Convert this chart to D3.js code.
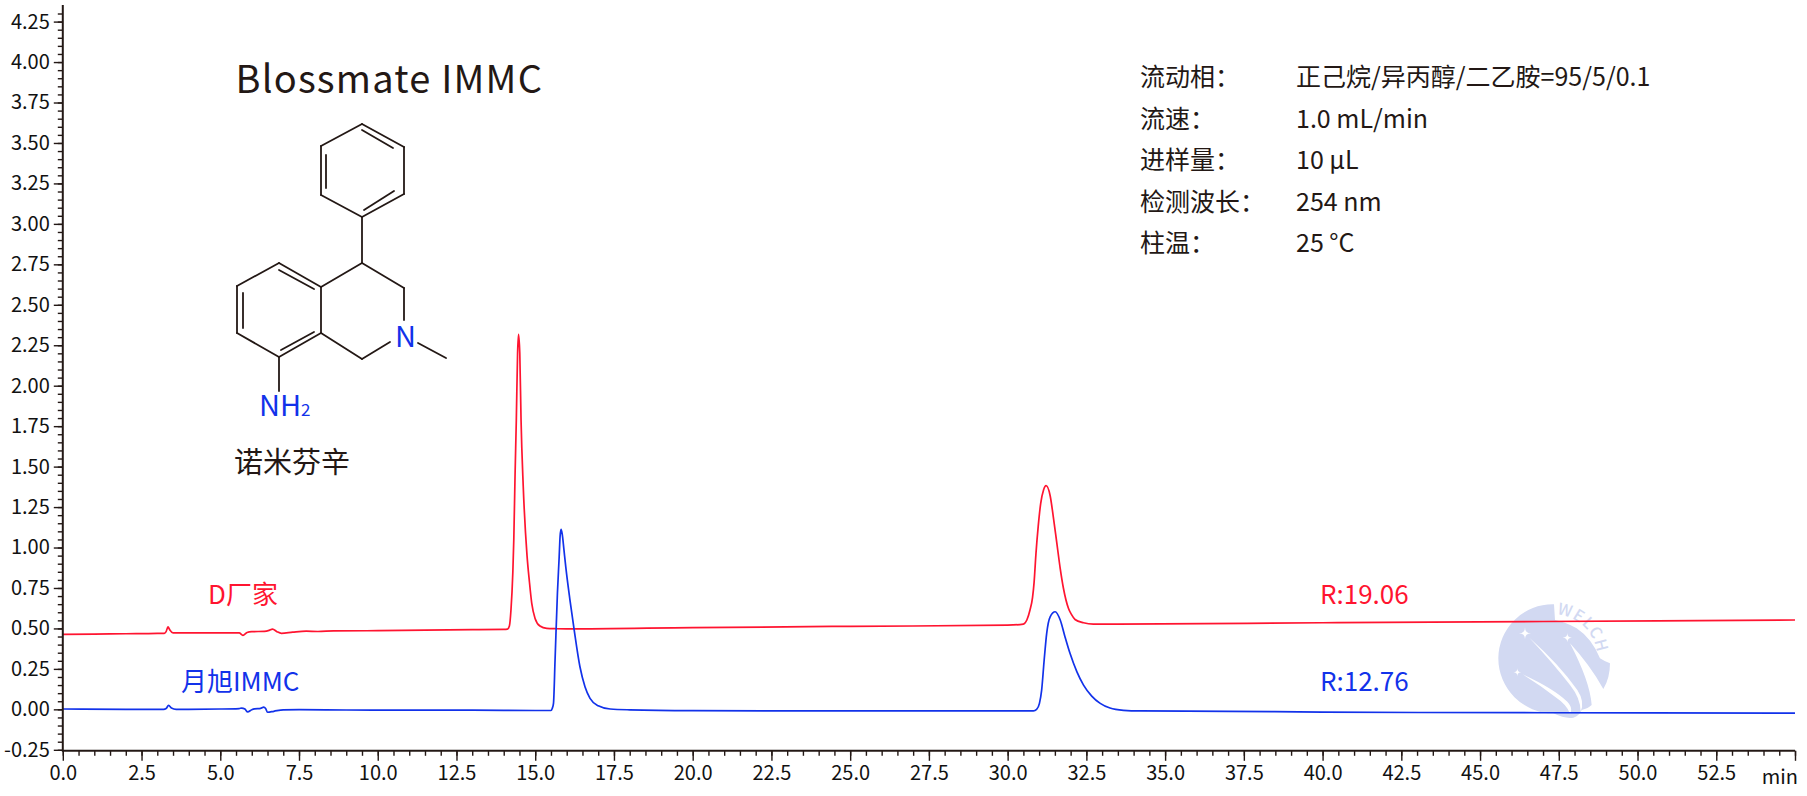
<!DOCTYPE html>
<html><head><meta charset="utf-8">
<script src="https://cdn.jsdelivr.net/npm/d3@7"></script>
<style>html,body{margin:0;padding:0;background:#fff}svg{display:block}
text{font-family:"Noto Sans CJK SC","Noto Sans",sans-serif}</style></head>
<body><div id="c"></div>
<script>
const redSeries=[[0,.463],[1,.465],[2,.467],[3,.469],[3.22,.47],[3.28,.48],[3.34,.51],[3.4,.49],[3.5,.472],[4,.472],[5,.473],[5.6,.472],[5.72,.457],[5.85,.475],[6,.48],[6.4,.482],[6.55,.488],[6.66,.496],[6.8,.48],[6.94,.47],[7.3,.477],[7.73,.483],[8.1,.481],[8.6,.485],[10,.486],[11.5,.49],[13,.493],[14,.494],[14.12,.496],[14.18,.515],[14.23,.614],[14.29,.85],[14.32,1.05],[14.36,1.45],[14.4,1.788],[14.44,2.2],[14.47,2.318],[14.51,2.2],[14.55,1.788],[14.62,1.376],[14.74,.95],[14.815,.79],[14.89,.655],[14.995,.562],[15.15,.515],[15.366,.5],[15.68,.498],[16,.497],[20,.505],[25,.513],[30,.52],[30.5,.527],[30.61,.552],[30.71,.614],[30.79,.69],[30.84,.785],[30.9,.964],[30.97,1.129],[31.05,1.273],[31.14,1.356],[31.22,1.382],[31.35,1.32],[31.45,1.19],[31.56,1.03],[31.67,.87],[31.77,.75],[31.93,.625],[32.03,.585],[32.14,.555],[32.41,.535],[32.72,.527],[33.5,.527],[40,.535],[47,.543],[55,.552]];
const blueSeries=[[0,.002],[2,0],[3.2,0],[3.28,.005],[3.36,.025],[3.45,.008],[3.6,0],[5,.002],[5.6,.005],[5.68,.008],[5.78,.002],[5.87,-.016],[6,-.002],[6.09,.003],[6.28,.006],[6.38,.014],[6.44,.005],[6.5,-.018],[6.7,-.012],[7,-.003],[7.5,-.002],[9,-.004],[11,-.005],[13,-.005],[15,-.007],[15.5,-.007],[15.54,.005],[15.58,.037],[15.63,.305],[15.705,.717],[15.76,.94],[15.79,1.07],[15.82,1.112],[15.86,1.08],[15.91,.99],[15.97,.88],[16.1,.68],[16.23,.5],[16.42,.263],[16.58,.14],[16.74,.068],[17,.022],[17.38,.002],[18,-.003],[20,-.008],[25,-.01],[30,-.009],[30.82,-.009],[30.92,0],[31.01,.037],[31.08,.119],[31.16,.305],[31.24,.47],[31.35,.572],[31.51,.603],[31.67,.552],[31.82,.449],[31.98,.346],[32.2,.232],[32.41,.15],[32.67,.082],[32.94,.037],[33.25,.008],[33.68,-.006],[34.2,-.01],[37,-.012],[40,-.017],[47,-.021],[55,-.023]];
const xMajorTicks=d3.range(0,22).map(i=>i*2.5).concat([55]);
const xMinorTicks=d3.range(0,111).map(i=>i*0.5);
const yMajorTicks=d3.range(-1,18).map(i=>i*0.25);
const yMinorTicks=d3.range(-5,87).map(i=>i*0.05);
const paramLabels=["流动相：","流速：","进样量：","检测波长：","柱温："];
const paramValues=["正己烷/异丙醇/二乙胺=95/5/0.1","1.0 mL/min","10 µL","254 nm","25 °C"];
const seriesNotes=[
 {t:"D厂家",x:208,y:594,c:"#ff1430"},{t:"R:19.06",x:1320,y:594,c:"#ff1430"},
 {t:"月旭IMMC",x:181,y:681,c:"#1232ea"},{t:"R:12.76",x:1320,y:681,c:"#1232ea"}];
const bonds=[[362,124,404,147],[404,147,404,194],[404,194,362,217],[362,217,321,195],[321,195,321,146],[321,146,362,124],
[362,130,393,148],[326,155,326,188],[364,210,394,191],[362,217,362,263],[362,263,321,287],[362,263,404,288],[404,288,404,320],
[390,342,362,359],[362,359,321,333],[321,333,321,287],[321,333,279,357],[279,357,237,333],[237,333,237,286],[237,286,279,263],[279,263,321,287],
[279,270,314,289],[243,293,243,328],[281,350,314,332],[418,343,446,358],[279,357,279,391]];

const W=1807,H=796,ink="#231815";
const svg=d3.select("#c").append("svg").attr("width",W).attr("height",H);
const x=d3.scaleLinear().domain([0,55]).range([62.8,1795]);
const y=d3.scaleLinear().domain([-0.25,4.25]).range([749.8,21.6]);

// watermark logo
const lg=svg.append("g").attr("transform","translate(1490,595) scale(0.3333)");
const logoC="#d2d9f2";
lg.append("path").attr("fill",logoC).attr("d","M192,28 A163,163 0 0 0 25,190 A165,165 0 0 0 190,355 Q225,372 250,368 Q268,362 275,345 Q295,340 305,330 Q300,260 240,145 Q300,210 340,282 Q360,250 360,205 Q345,200 330,190 Q305,130 260,100 Q225,80 195,75 Z");
lg.append("path").attr("fill","#fff").attr("d","M118,128 Q210,210 262,285 Q285,320 272,350 Q272,310 240,270 Q190,205 118,128Z");
lg.append("path").attr("fill","#fff").attr("d","M98,238 Q190,280 232,320 Q250,340 240,356 Q232,330 195,305 Q150,270 98,238Z");
[[105,115,18],[232,128,14],[82,232,12]].forEach(([a,b,r])=>
 lg.append("path").attr("fill","#fff").attr("d",`M${a},${b-r} Q${a},${b} ${a+r},${b} Q${a},${b} ${a},${b+r} Q${a},${b} ${a-r},${b} Q${a},${b} ${a},${b-r}Z`));
lg.append("defs").append("path").attr("id","arc").attr("d","M200,58 A132,132 0 0 1 322,190");
lg.append("text").attr("font-size",48).attr("fill",logoC).attr("font-weight",500).attr("letter-spacing",4)
  .append("textPath").attr("href","#arc").text("WELCH");

// traces
const line=d3.line().x(d=>x(d[0])).y(d=>y(d[1])).curve(d3.curveMonotoneX);
[[redSeries,"#ff1430"],[blueSeries,"#1232ea"]].forEach(([d,c])=>
  svg.append("path").datum(d).attr("d",line).attr("fill","none").attr("stroke",c).attr("stroke-width",1.7));

// axes
const gx=svg.append("g").attr("transform",`translate(0,${y(-0.25)+1})`);
gx.call(d3.axisBottom(x).tickValues(xMinorTicks).tickSize(5).tickFormat(""));
const gxM=svg.append("g").attr("transform",`translate(0,${y(-0.25)+1})`);
gxM.call(d3.axisBottom(x).tickValues(xMajorTicks).tickSize(10).tickPadding(5).tickFormat(d=>d===55?"":d.toFixed(1)));
const gy=svg.append("g").attr("transform",`translate(${x(0)},0)`);
gy.call(d3.axisLeft(y).tickValues(yMinorTicks).tickSize(5).tickFormat(""));
const gyM=svg.append("g").attr("transform",`translate(${x(0)},0)`);
gyM.call(d3.axisLeft(y).tickValues(yMajorTicks).tickSize(9).tickPadding(4).tickFormat(d=>d.toFixed(2)));
[gx,gxM,gy,gyM].forEach(g=>{g.selectAll(".domain").remove();
  g.selectAll("line").attr("stroke",ink).attr("stroke-width",1.4);
  g.selectAll("text").attr("fill","#111").attr("font-size",20).style("font-family",'"Noto Sans CJK SC"');});
svg.append("line").attr("x1",x(0)).attr("x2",x(55)).attr("y1",y(-0.25)+1).attr("y2",y(-0.25)+1).attr("stroke",ink).attr("stroke-width",2);
svg.append("line").attr("x1",x(0)).attr("x2",x(0)).attr("y1",5).attr("y2",y(-0.25)+2).attr("stroke",ink).attr("stroke-width",2);
svg.append("text").attr("x",1798).attr("y",784).attr("text-anchor","end").attr("font-size",20).attr("fill","#111").text("min");

// structure
svg.append("g").selectAll("line").data(bonds).join("line")
 .attr("x1",d=>d[0]).attr("y1",d=>d[1]).attr("x2",d=>d[2]).attr("y2",d=>d[3])
 .attr("stroke",ink).attr("stroke-width",1.8).attr("stroke-linecap","round");
svg.append("text").attr("x",405.5).attr("y",347).attr("text-anchor","middle").attr("font-size",29).attr("fill","#1232ea").text("N");
const nh=svg.append("text").attr("x",259).attr("y",416).attr("font-size",29).attr("fill","#1232ea").text("NH");
nh.append("tspan").attr("font-size",17).text("2");

// texts
svg.append("text").attr("x",235.5).attr("y",93).attr("font-size",38).attr("letter-spacing",1.2).attr("fill",ink).text("Blossmate IMMC");
svg.append("text").attr("x",234).attr("y",473).attr("font-size",29).attr("fill",ink).text("诺米芬辛");
seriesNotes.forEach(n=>svg.append("text").attr("x",n.x).attr("y",n.y+10).attr("font-size",26).attr("fill",n.c).text(n.t));
const rows=[77,119,160,202,243];
paramLabels.forEach((t,i)=>svg.append("text").attr("x",1140).attr("y",rows[i]+9).attr("font-size",25).attr("fill",ink).text(t));
paramValues.forEach((t,i)=>svg.append("text").attr("x",1296).attr("y",rows[i]+9).attr("font-size",25).attr("fill",ink).text(t));
</script></body></html>
